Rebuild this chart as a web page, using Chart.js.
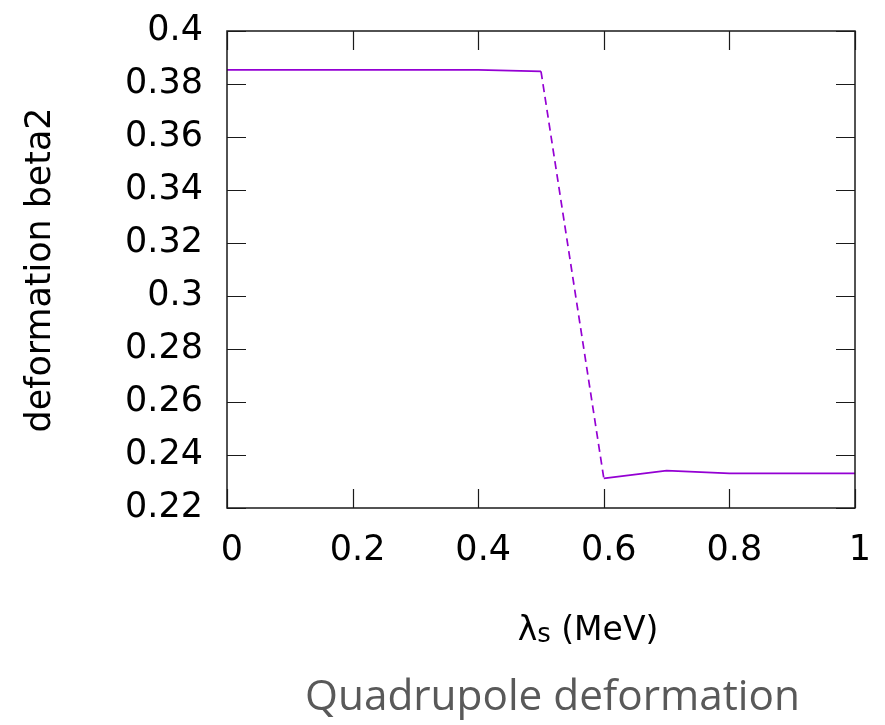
<!DOCTYPE html>
<html>
<head>
<meta charset="utf-8">
<script src="https://cdn.jsdelivr.net/npm/chart.js@4/dist/chart.umd.min.js"></script>
<style>
    html, body { margin: 0; padding: 0; background: #fff; }
    .chart-box { position: relative; width: 885px; height: 725px; }
</style>
</head>
<body>
<div class="chart-box">
    <canvas id="betaChart"></canvas>
</div>
<script>
// Data
const lambdaS = [0, 0.1, 0.2, 0.3, 0.4, 0.5, 0.6, 0.7, 0.8, 0.9, 1.0];
const beta2 = [0.3853, 0.3853, 0.3853, 0.3853, 0.3853, 0.3848, 0.2312, 0.2341, 0.2331, 0.2331, 0.2331];

// Tick positions
const xTicks = [0, 0.2, 0.4, 0.6, 0.8, 1];
const yTicks = [0.22, 0.24, 0.26, 0.28, 0.3, 0.32, 0.34, 0.36, 0.38, 0.4];

// Texts
const yTitle = 'deformation beta2';
const xTitleMain = 'λ';
const xTitleSub = 's';
const xTitleRest = ' (MeV)';
const caption = 'Quadrupole deformation';

const lineColor = '#9400d3';
const frameColor = '#1a1a1a';
const tickFont = 'DejaVu Sans';

// fit a string into a given width by adjusting font size
function fitFont(ctx, text, family, width) {
    ctx.font = '100px "' + family + '"';
    const w = ctx.measureText(text).width;
    return 100 * width / w;
}

// Frame, inward tick marks and titles
const decorPlugin = {
    id: 'decor',
    afterDatasetsDraw(chart) {
        const ctx = chart.ctx;
        const area = chart.chartArea;
        const xs = chart.scales.x;
        const ys = chart.scales.y;
        const tl = 19;

        ctx.save();
        ctx.strokeStyle = frameColor;
        ctx.lineWidth = 1.5;
        ctx.strokeRect(area.left, area.top, area.right - area.left, area.bottom - area.top);

        ctx.lineWidth = 1.2;
        ctx.beginPath();
        xTicks.forEach(v => {
            const px = Math.round(xs.getPixelForValue(v)) + 0.5;
            ctx.moveTo(px, area.bottom);
            ctx.lineTo(px, area.bottom - tl);
            ctx.moveTo(px, area.top);
            ctx.lineTo(px, area.top + tl);
        });
        yTicks.forEach(v => {
            const py = Math.round(ys.getPixelForValue(v)) + 0.5;
            ctx.moveTo(area.left, py);
            ctx.lineTo(area.left + tl, py);
            ctx.moveTo(area.right, py);
            ctx.lineTo(area.right - tl, py);
        });
        ctx.stroke();
        ctx.restore();
    },
    afterDraw(chart) {
        const ctx = chart.ctx;
        ctx.save();

        // y axis title
        let size = fitFont(ctx, yTitle, tickFont, 325);
        ctx.font = size + 'px "' + tickFont + '"';
        ctx.fillStyle = '#000';
        ctx.textAlign = 'center';
        ctx.textBaseline = 'middle';
        ctx.translate(41, 270);
        ctx.rotate(-Math.PI / 2);
        ctx.fillText(yTitle, 0, 0);
        ctx.setTransform(1, 0, 0, 1, 0, 0);

        // x axis title with subscript
        const mainSize = 33;
        const subSize = 26;
        ctx.textAlign = 'left';
        ctx.textBaseline = 'alphabetic';
        ctx.font = mainSize + 'px "' + tickFont + '"';
        const wMain = ctx.measureText(xTitleMain).width;
        const wRest = ctx.measureText(xTitleRest).width;
        ctx.font = subSize + 'px "' + tickFont + '"';
        const wSub = ctx.measureText(xTitleSub).width;
        let x = 588 - (wMain + wSub + wRest) / 2;
        const base = 640;
        ctx.font = mainSize + 'px "' + tickFont + '"';
        ctx.fillText(xTitleMain, x, base);
        x += wMain;
        ctx.font = subSize + 'px "' + tickFont + '"';
        ctx.fillText(xTitleSub, x, base + 2);
        x += wSub;
        ctx.font = mainSize + 'px "' + tickFont + '"';
        ctx.fillText(xTitleRest, x, base);

        // caption under the chart
        size = fitFont(ctx, caption, 'Open Sans', 495);
        ctx.font = size + 'px "Open Sans"';
        ctx.fillStyle = '#595959';
        ctx.textAlign = 'left';
        ctx.fillText(caption, 305, 710);
        ctx.restore();
    }
};

const ctx = document.getElementById('betaChart').getContext('2d');
const betaChart = new Chart(ctx, {
    type: 'line',
    data: {
        datasets: [{
            label: 'beta2',
            data: lambdaS.map((v, i) => ({ x: v, y: beta2[i] })),
            borderColor: lineColor,
            borderWidth: 1.7,
            pointRadius: 0,
            tension: 0,
            fill: false,
            segment: {
                borderDash: c => c.p0DataIndex === 5 ? [8, 5] : undefined
            }
        }]
    },
    options: {
        responsive: true,
        maintainAspectRatio: false,
        animation: false,
        layout: {
            padding: { left: 0, top: 31, right: 30, bottom: 0 }
        },
        plugins: {
            legend: { display: false },
            tooltip: { enabled: false }
        },
        scales: {
            x: {
                type: 'linear',
                min: 0,
                max: 1,
                afterBuildTicks: s => { s.ticks = xTicks.map(v => ({ value: v })); },
                afterFit: s => {
                    s.height = 217;
                    s.paddingLeft = 0;
                    s.paddingRight = 0;
                },
                grid: { display: false, drawTicks: false },
                border: { display: false },
                ticks: {
                    padding: 22,
                    labelOffset: 5,
                    color: '#000',
                    font: { family: tickFont, size: 35 },
                    maxRotation: 0,
                    callback: v => String(v)
                }
            },
            y: {
                type: 'linear',
                min: 0.22,
                max: 0.4,
                afterBuildTicks: s => { s.ticks = yTicks.map(v => ({ value: v })); },
                afterFit: s => {
                    s.width = 227;
                    s.paddingTop = 0;
                    s.paddingBottom = 0;
                },
                grid: { display: false, drawTicks: false },
                border: { display: false },
                ticks: {
                    padding: 24,
                    color: '#000',
                    font: { family: tickFont, size: 35 },
                    callback: v => String(v)
                }
            }
        }
    },
    plugins: [decorPlugin]
});
</script>
</body>
</html>
